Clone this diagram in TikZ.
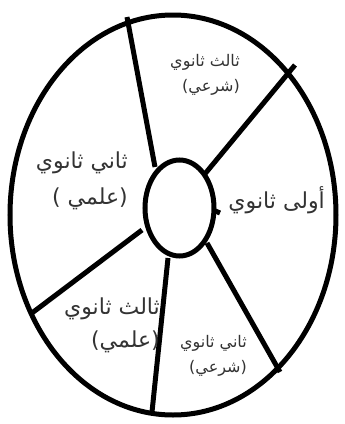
\documentclass[tikz,border=0pt]{standalone}
\usepackage{fontspec}
\usetikzlibrary{shapes.geometric}
\TeXXeTstate=1
\newfontfamily\arabicfont[Script=Arabic]{DejaVu Sans}
\definecolor{txt}{HTML}{333333}
\begin{document}
\begin{tikzpicture}[x=1pt,y=-1pt,
  wheel/.style={draw=black, line width=5pt, ellipse, inner sep=0pt},
  spoke/.style={draw=black, line width=5pt},
  lbl/.style={text=txt, inner sep=0pt, align=right, anchor=east}]
\useasboundingbox (0,0) rectangle (345,424);
\fill[white] (0,0) rectangle (345,424);
\node[wheel, minimum width=326pt, minimum height=400pt] (outer) at (173,215) {};
\node[wheel, minimum width=69pt, minimum height=96pt] (hub) at (179.5,208) {};
% spoke end points
\coordinate (s1a) at (155,167); \coordinate (s1b) at (127,17);
\coordinate (s2a) at (204,175); \coordinate (s2b) at (295,65);
\coordinate (s3a) at (207,243); \coordinate (s3b) at (280,372);
\coordinate (s4a) at (168,258); \coordinate (s4b) at (152,412);
\coordinate (s5a) at (142,230); \coordinate (s5b) at (32,313);
\coordinate (s6a) at (213,210); \coordinate (s6b) at (220,213);
\draw[spoke] (s1a) -- (s1b);
\draw[spoke] (s2a) -- (s2b);
\draw[spoke] (s3a) -- (s3b);
\draw[spoke] (s4a) -- (s4b);
\draw[spoke] (s5a) -- (s5b);
\draw[spoke] (s6a) -- (s6b);
% labels
\node[lbl, font=\arabicfont\fontsize{16}{25}\selectfont] (t1) at (240,75)
  {\beginR ثالث ثانوي\endR\\\beginR(شرعي)\endR};
\node[lbl, font=\arabicfont\fontsize{22}{24}\selectfont] (t2) at (325,200)
  {\beginR أولى ثانوي\endR};
\node[lbl, font=\arabicfont\fontsize{22}{36}\selectfont] (t3) at (128,181)
  {\beginR ثاني ثانوي\endR\\\beginR(علمي )\endR};
\node[lbl, font=\arabicfont\fontsize{22}{33}\selectfont] (t4) at (160,325)
  {\beginR ثالث ثانوي\endR\\\beginR(علمي)\endR};
\node[lbl, font=\arabicfont\fontsize{16}{25}\selectfont] (t5) at (247,356)
  {\beginR ثاني ثانوي\endR\\\beginR(شرعي)\endR};
\end{tikzpicture}
\end{document}
